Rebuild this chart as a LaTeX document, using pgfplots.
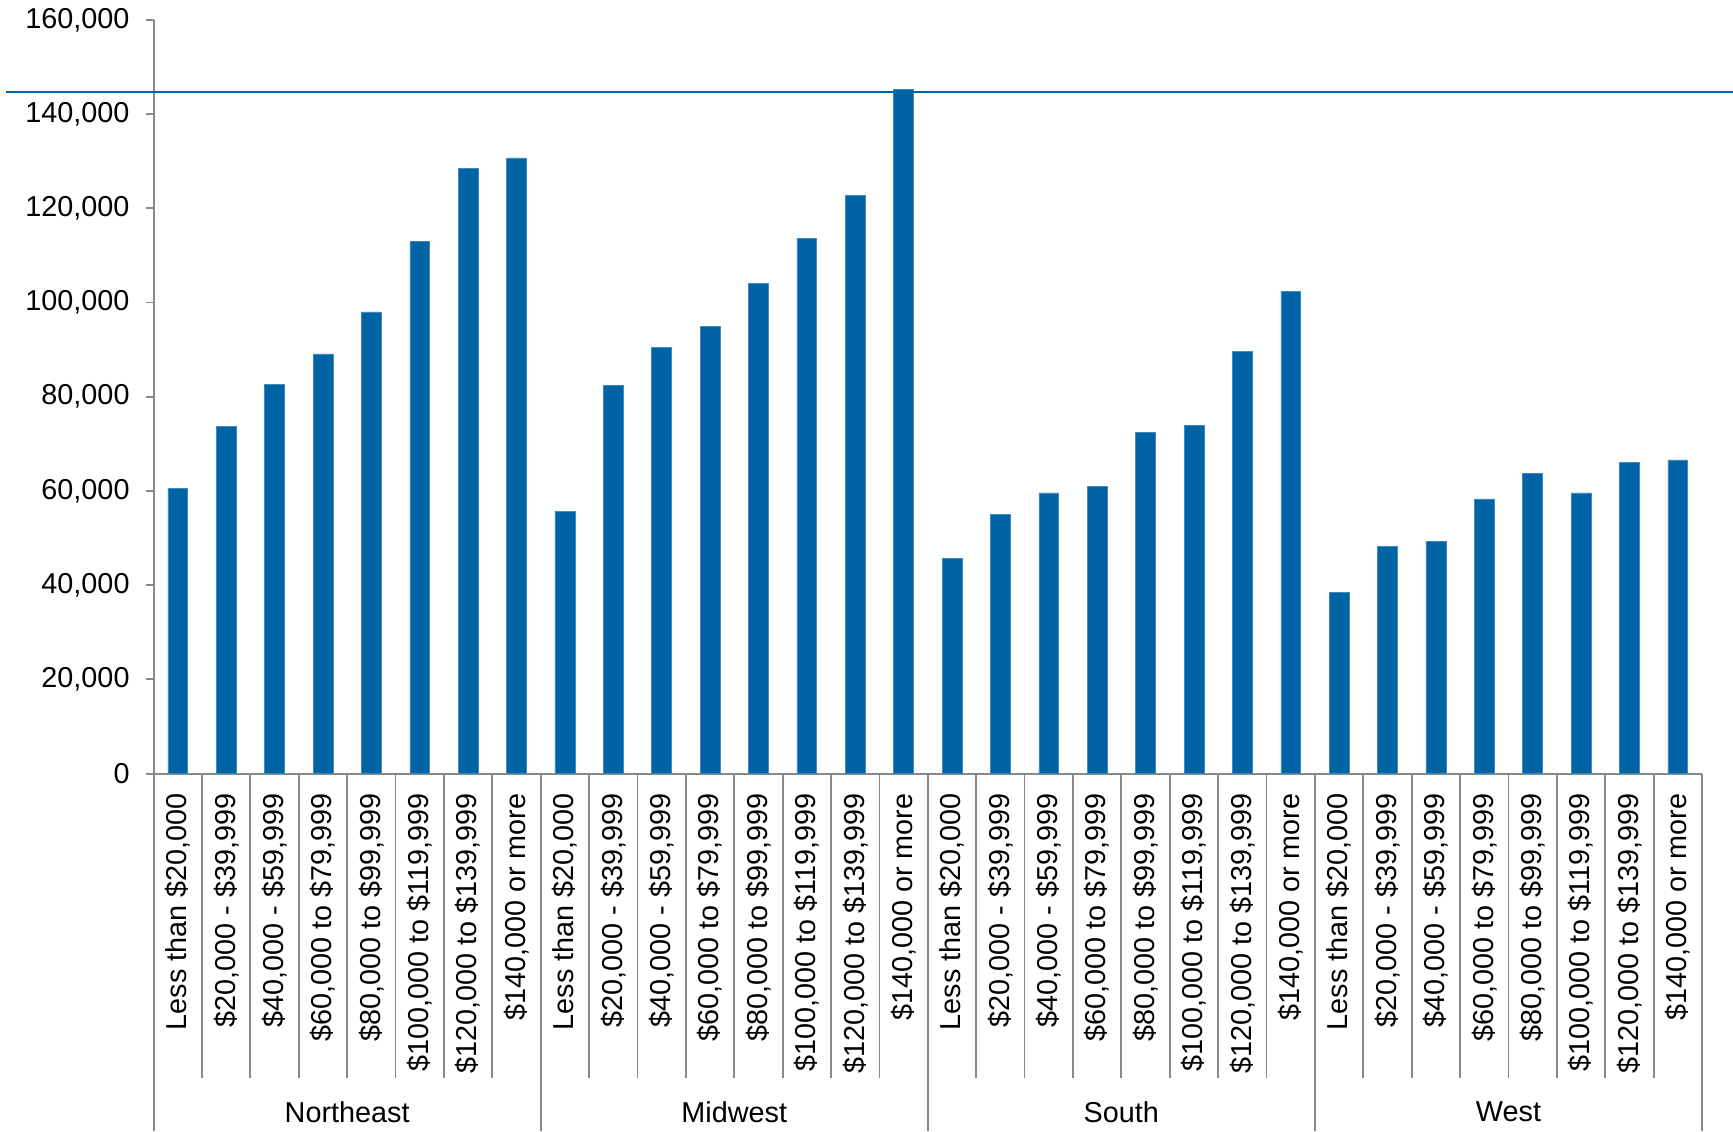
\documentclass[border=0pt]{standalone}
\usepackage{fontspec}
\setmainfont{Liberation Sans}
\usepackage{pgfplots}
\pgfplotsset{compat=1.18}
\definecolor{barblue}{RGB}{0,99,165}
\definecolor{axgray}{RGB}{137,137,137}
\newcommand\ff{\fontsize{14.4}{17.3}\selectfont}
\begin{document}
\begin{tikzpicture}
\begin{axis}[
  at={(76.8pt,178.7pt)}, anchor=south west,
  scale only axis, width=774.2pt, height=376.85pt,
  xmin=0.5, xmax=32.5, ymin=0, ymax=160000,
  enlargelimits=false, clip=false,
  axis lines=left, axis line style={-, axgray, line width=0.9pt},
  tick align=outside, major tick length=3.7pt,
  y tick style={axgray, line width=0.9pt},
  x tick style={draw=none},
  ytick={0,20000,...,160000},
  scaled y ticks=false,
  yticklabel style={/pgf/number format/fixed, /pgf/number format/1000 sep={,}, /pgf/number format/assume math mode=true, xshift=-4.8pt},
  tick label style={font=\ff},
  xtick={1,...,32},
  xticklabels={{Less than \$20,000},{\$20,000 - \$39,999},{\$40,000 - \$59,999},{\$60,000 to \$79,999},{\$80,000 to \$99,999},{\$100,000 to \$119,999},{\$120,000 to \$139,999},{\$140,000 or more},
  {Less than \$20,000},{\$20,000 - \$39,999},{\$40,000 - \$59,999},{\$60,000 to \$79,999},{\$80,000 to \$99,999},{\$100,000 to \$119,999},{\$120,000 to \$139,999},{\$140,000 or more},
  {Less than \$20,000},{\$20,000 - \$39,999},{\$40,000 - \$59,999},{\$60,000 to \$79,999},{\$80,000 to \$99,999},{\$100,000 to \$119,999},{\$120,000 to \$139,999},{\$140,000 or more},
  {Less than \$20,000},{\$20,000 - \$39,999},{\$40,000 - \$59,999},{\$60,000 to \$79,999},{\$80,000 to \$99,999},{\$100,000 to \$119,999},{\$120,000 to \$139,999},{\$140,000 or more}},
  xticklabel style={inner sep=0pt, rotate=90, anchor=east, xshift=-6pt},
]
\addplot[ybar, fill=barblue, draw=barblue!75!white, line width=0.3pt, bar width=0.41] coordinates {
 (1,60600) (2,73700) (3,82600) (4,89100) (5,98000) (6,113000) (7,128500) (8,130700)
 (9,55600) (10,82400) (11,90500) (12,95000) (13,104000) (14,113700) (15,122700) (16,145300)
 (17,45700) (18,55000) (19,59600) (20,60900) (21,72500) (22,73900) (23,89700) (24,102300)
 (25,38400) (26,48200) (27,49300) (28,58300) (29,63800) (30,59600) (31,66100) (32,66600)
};
\pgfplotsinvokeforeach{1.5,2.5,...,31.5}{
  \draw[axgray, line width=0.9pt] (axis cs:#1,0) -- ([yshift=-152pt]axis cs:#1,0);
}
\pgfplotsinvokeforeach{0.5,8.5,16.5,24.5,32.5}{
  \draw[axgray, line width=0.9pt] (axis cs:#1,0) -- ([yshift=-178.7pt]axis cs:#1,0);
}
\draw[barblue, line width=1.1pt] ([xshift=-74pt]axis cs:0.5,144700) -- ([xshift=15.5pt]axis cs:32.5,144700);
\node[font=\ff, yshift=-169.2pt] at (axis cs:4.5,0) {Northeast};
\node[font=\ff, yshift=-169.2pt] at (axis cs:12.5,0) {Midwest};
\node[font=\ff, yshift=-169.2pt] at (axis cs:20.5,0) {South};
\node[font=\ff, yshift=-169.2pt] at (axis cs:28.5,0) {West};
\end{axis}
\pgfresetboundingbox
\useasboundingbox (0,0) rectangle (866.5pt,565.5pt);
\end{tikzpicture}
\end{document}
